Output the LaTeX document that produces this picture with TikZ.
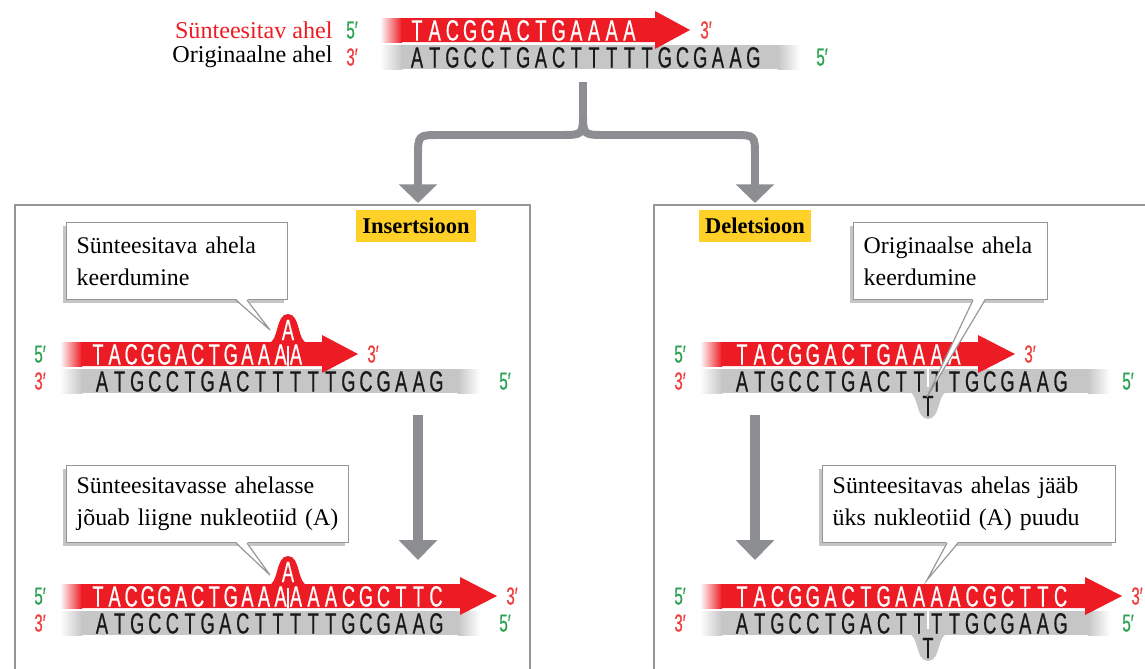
\documentclass[tikz,border=0pt]{standalone}
\usepackage{fontspec}
\setmainfont{Liberation Serif}
\newfontfamily\seqfont[FakeStretch=0.62, FakeBold=0.6]{Liberation Sans}
\usepackage{tikz}
\usetikzlibrary{arrows.meta, calc, shadows}
\definecolor{strandRed}{RGB}{237, 28, 36}
\definecolor{strandGray}{RGB}{198, 198, 198}
\definecolor{arrowGray}{RGB}{140, 142, 145}
\definecolor{frameGray}{RGB}{150, 150, 150}
\definecolor{primeGreen}{RGB}{40, 160, 80}
\definecolor{primeRed}{RGB}{236, 60, 60}
\definecolor{tagYellow}{RGB}{255, 208, 40}

\newcommand{\redstrand}[4]{%
  \shade[left color=white, right color=strandRed] (#1,#2-12) rectangle (#1+22,#2+12);
  \fill[strandRed] (#1+21,#2-12) -- (#3,#2-12) -- (#3,#2-19) -- (#4,#2) -- (#3,#2+19) -- (#3,#2+12) -- (#1+21,#2+12) -- cycle;}
\newcommand{\graystrand}[3]{%
  \shade[left color=white, right color=strandGray] (#1,#3-12) rectangle (#1+22,#3+12);
  \fill[strandGray] (#1+21,#3-12) rectangle (#2-21,#3+12);
  \shade[left color=strandGray, right color=white] (#2-22,#3-12) rectangle (#2,#3+12);}
\newcommand{\strandloop}[4]{%
  \fill[#1] (#2-20,#3) .. controls (#2-9,#3) and (#2-13,#4) .. (#2,#4) .. controls (#2+13,#4) and (#2+9,#3) .. (#2+20,#3) -- cycle;}
\newcommand{\bases}[6]{%
  \foreach \nt [count=\i from 0] in {#6}
    \node[nuc, text=#5] (#1\i) at (#2+#3*\i, #4+10.5) {\nt};}
\newcommand{\calloutpointer}[4]{%
  \fill[white] ($(#1.south west)+(#2,-1.5)$) -- (#4) -- ($(#1.south west)+(#3,-1.5)$) -- cycle;
  \draw[calloutedge] ($(#1.south west)+(#2,0)$) -- (#4) -- ($(#1.south west)+(#3,0)$);}

\begin{document}
\begin{tikzpicture}[x=0.015cm, y=-0.015cm,
    nuc/.style={font=\seqfont\fontsize{12.5}{13}\selectfont, inner sep=0pt, anchor=base, text height=9pt, text depth=0pt},
    endmark/.style={font=\seqfont\fontsize{10.5}{12}\selectfont, inner sep=0pt, anchor=base},
    strandlabel/.style={font=\fontsize{10.3}{12}\selectfont, inner sep=0pt, anchor=east},
    casetag/.style={fill=tagYellow, font=\bfseries\fontsize{9.6}{11}\selectfont, inner xsep=2.5pt, minimum height=10.7pt},
    boxframe/.style={draw=frameGray, line width=1pt},
    callout/.style={draw=frameGray, line width=0.6pt, fill=white, anchor=north west, align=left,
      inner xsep=0.15cm, inner ysep=0pt, minimum height=1.15cm, font=\fontsize{10.2}{13.7}\selectfont,
      drop shadow={shadow xshift=-1.5pt, shadow yshift=-1.5pt, fill=black!45, opacity=0.5}},
    calloutedge/.style={draw=frameGray, line width=0.5pt},
    flow/.style={arrowGray, line width=3.4pt, -{Triangle[width=16pt, length=8pt]}},
    flowdown/.style={arrowGray, line width=4.3pt, -{Triangle[width=16pt, length=8.5pt]}}]
  \useasboundingbox (0,0) rectangle (1145,668);

  \draw[boxframe] (15,205) rectangle (530,690);
  \draw[boxframe] (654,205) rectangle (1170,690);

  \graystrand{380}{800}{57}
  \redstrand{380}{30}{655}{690}
  \bases{ts}{417}{17.7}{30}{white}{T,A,C,G,G,A,C,T,G,A,A,A,A}
  \bases{os}{417}{17.7}{57}{black!90}{A,T,G,C,C,T,G,A,C,T,T,T,T,T,G,C,G,A,A,G}
  \node[strandlabel, text=strandRed] (synlab) at (333,30) {Sünteesitav ahel};
  \node[strandlabel] (orilab) at (333,57) {Originaalne ahel};
  \node[endmark, text=primeGreen] (ts5) at (352,38.5) {5′};
  \node[endmark, text=primeRed] (ts3) at (706,38.5) {3′};
  \node[endmark, text=primeRed] (os3) at (352,65.5) {3′};
  \node[endmark, text=primeGreen] (os5) at (822,65.5) {5′};

  \coordinate (fork) at (583,82);
  \coordinate (insin) at (418,203);
  \coordinate (delin) at (755,203);
  \draw[flow] (fork) -- (583,112) .. controls (583,135) .. (561,135) -- (440,135) .. controls (418,135) .. (418,157) -- (insin);
  \draw[flow] (583,112) .. controls (583,135) .. (605,135) -- (733,135) .. controls (755,135) .. (755,157) -- (delin);

  \node[casetag] (instag) at (416,226) {Insertsioon};
  \node[casetag] (deltag) at (755,226) {Deletsioon};

  \coordinate (insa) at (418,415);
  \coordinate (insb) at (418,560);
  \draw[flowdown] (insa) -- (insb);
  \coordinate (dela) at (755,415);
  \coordinate (delb) at (755,560);
  \draw[flowdown] (dela) -- (delb);

  \graystrand{60}{480}{381}
  \redstrand{60}{354}{322}{358}
  \strandloop{strandRed}{288}{343}{314}
  \bases{ia}{98}{16.6}{354}{white}{T,A,C,G,G,A,C,T,G,A,A,A}
  \node[nuc, text=white] (ia12) at (296,364.5) {A};
  \node[nuc, text=white] (ialoop) at (288,340) {A};
  \draw[white, line width=0.7pt] (288,346) -- (288,366);
  \bases{ib}{102}{17.6}{381}{black!90}{A,T,G,C,C,T,G,A,C,T,T,T,T,T,G,C,G,A,A,G}
  \node[endmark, text=primeGreen] (ia5) at (40,362.5) {5′};
  \node[endmark, text=primeRed] (ib3) at (40,389.5) {3′};
  \node[endmark, text=primeRed] (ia3) at (373,362.5) {3′};
  \node[endmark, text=primeGreen] (ib5) at (505,389.5) {5′};

  \graystrand{60}{480}{623}
  \redstrand{60}{596}{460}{497}
  \strandloop{strandRed}{288}{585}{556}
  \bases{ic}{98}{16.6}{596}{white}{T,A,C,G,G,A,C,T,G,A,A,A}
  \bases{id}{296}{17.5}{596}{white}{A,A,A,C,G,C,T,T,C}
  \node[nuc, text=white] (icloop) at (288,582) {A};
  \draw[white, line width=0.7pt] (288,588) -- (288,608);
  \bases{ie}{102}{17.6}{623}{black!90}{A,T,G,C,C,T,G,A,C,T,T,T,T,T,G,C,G,A,A,G}
  \node[endmark, text=primeGreen] (ic5) at (40,604.5) {5′};
  \node[endmark, text=primeRed] (ie3) at (40,631.5) {3′};
  \node[endmark, text=primeRed] (ic3) at (512,604.5) {3′};
  \node[endmark, text=primeGreen] (ie5) at (505,631.5) {5′};

  \graystrand{700}{1110}{381}
  \strandloop{strandGray}{928}{392}{419}
  \redstrand{700}{354}{978}{1015}
  \bases{da}{742}{17.7}{354}{white}{T,A,C,G,G,A,C,T,G,A,A,A,A}
  \bases{db}{742}{17.7}{381}{black!90}{A,T,G,C,C,T,G,A,C,T,T,T,T,G,C,G,A,A,G}
  \node[nuc, text=black!90] (dbloop) at (928,416) {T};
  \draw[white, line width=0.7pt] (928,369) -- (928,387);
  \node[endmark, text=primeGreen] (da5) at (680,362.5) {5′};
  \node[endmark, text=primeRed] (db3) at (680,389.5) {3′};
  \node[endmark, text=primeRed] (da3) at (1030,362.5) {3′};
  \node[endmark, text=primeGreen] (db5) at (1128,389.5) {5′};

  \graystrand{700}{1110}{623}
  \strandloop{strandGray}{928}{634}{661}
  \redstrand{700}{596}{1085}{1122}
  \bases{dc}{742}{17.7}{596}{white}{T,A,C,G,G,A,C,T,G,A,A,A,A,C,G,C,T,T,C}
  \bases{dd}{742}{17.7}{623}{black!90}{A,T,G,C,C,T,G,A,C,T,T,T,T,G,C,G,A,A,G}
  \node[nuc, text=black!90] (ddloop) at (928,658) {T};
  \draw[white, line width=0.7pt] (928,611) -- (928,629);
  \node[endmark, text=primeGreen] (dc5) at (680,604.5) {5′};
  \node[endmark, text=primeRed] (dd3) at (680,631.5) {3′};
  \node[endmark, text=primeRed] (dc3) at (1137,604.5) {3′};
  \node[endmark, text=primeGreen] (dd5) at (1128,631.5) {5′};

  \node[callout, text width=3.015cm] (c1) at (66,222) {Sünteesitava ahela\\keerdumine};
  \coordinate (c1tip) at (270,330);
  \calloutpointer{c1}{170}{181}{c1tip}
  \node[callout, text width=2.61cm] (c2) at (853,222) {Originaalse ahela\\keerdumine};
  \coordinate (c2tip) at (927,397);
  \calloutpointer{c2}{120}{132}{c2tip}
  \node[callout, text width=3.93cm] (c3) at (66,465) {Sünteesitavasse ahelasse\\jõuab liigne nukleotiid (A)};
  \coordinate (c3tip) at (270,575);
  \calloutpointer{c3}{170}{181}{c3tip}
  \node[callout, text width=4.095cm] (c4) at (822,465) {Sünteesitavas ahelas jääb\\üks nukleotiid (A) puudu};
  \coordinate (c4tip) at (927,580);
  \calloutpointer{c4}{125}{136}{c4tip}
\end{tikzpicture}
\end{document}
